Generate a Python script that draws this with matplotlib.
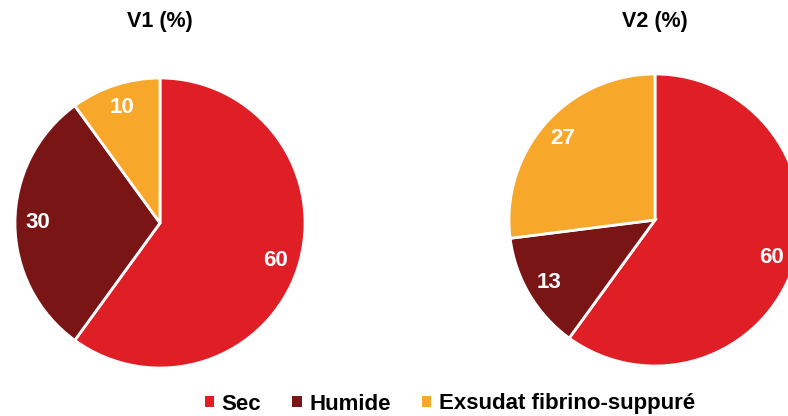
import matplotlib
matplotlib.use('Agg')
from matplotlib import pyplot as plt
from matplotlib.patches import Patch

plt.rcParams['font.family'] = ['Liberation Sans', 'DejaVu Sans']

##########
# DATA   #
##########

categories = ['Sec', 'Humide', 'Exsudat fibrino-suppuré']
v1_values = [60, 30, 10]
v2_values = [60, 13, 27]
titles = ['V1 (%)', 'V2 (%)']
colors = ['#E01E25', '#7A1515', '#F7A82B']

##########
# PLOT   #
##########

fig = plt.figure(figsize=(7.88, 4.16), dpi=100)

# axes placed by pixel boxes (left, bottom, width, height)
ax1 = fig.add_axes([15 / 788, 48 / 416, 290 / 788, 290 / 416])
ax2 = fig.add_axes([509 / 788, 50 / 416, 292 / 788, 292 / 416])


def draw_pie(ax, values):
    ax.pie(values, colors=colors, startangle=90, counterclock=False,
           autopct=lambda p: '{:.0f}'.format(p), pctdistance=0.84,
           wedgeprops={'edgecolor': 'white', 'linewidth': 2},
           textprops={'color': 'white', 'fontsize': 16, 'fontweight': 'bold'})
    ax.set_xlim(-1, 1)
    ax.set_ylim(-1, 1)
    ax.set_aspect('equal')
    ax.axis('off')


draw_pie(ax1, v1_values)
draw_pie(ax2, v2_values)

fig.text(160 / 788, 1 - 22 / 416, titles[0], ha='center', va='center',
         fontsize=15.5, fontweight='bold')
fig.text(655 / 788, 1 - 22 / 416, titles[1], ha='center', va='center',
         fontsize=15.5, fontweight='bold')

handles = [Patch(facecolor=c, edgecolor='none') for c in colors]
fig.legend(handles, categories, loc='center', bbox_to_anchor=(450 / 788, 1 - 404 / 416),
           ncol=3, frameon=False, handlelength=0.42, handleheight=0.42,
           handletextpad=0.35, columnspacing=1.4,
           prop={'size': 16, 'weight': 'bold'})

plt.savefig('out.png', dpi=100)
